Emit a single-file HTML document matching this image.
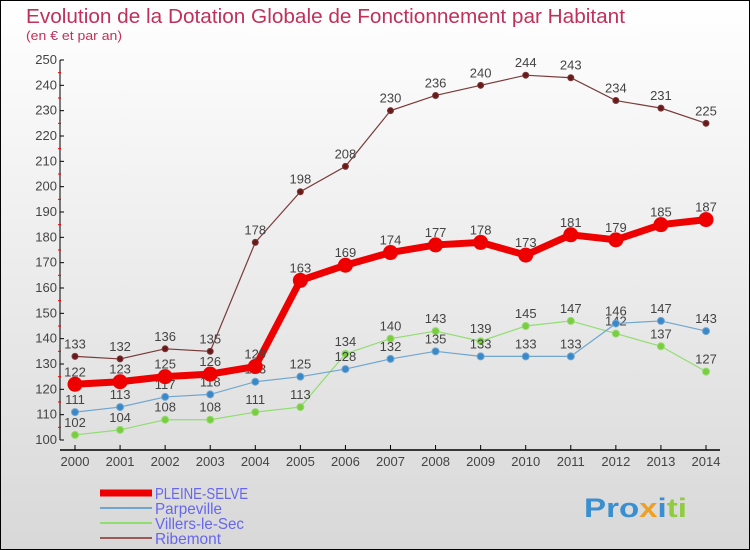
<!DOCTYPE html>
<html><head><meta charset="utf-8"><style>
body{margin:0;width:750px;height:550px;overflow:hidden;font-family:"Liberation Sans",sans-serif}
#wrap{position:absolute;left:0;top:0;width:748px;height:548px;border:1px solid #000;background:linear-gradient(#ffffff,#d8d8d8)}
</style></head><body>
<div id="wrap">
<svg id="chart" width="750" height="550" style="position:absolute;left:-1px;top:-1px">
<text x="26" y="23" font-size="20" fill="#c0305a" textLength="599" lengthAdjust="spacingAndGlyphs">Evolution de la Dotation Globale de Fonctionnement par Habitant</text>
<text x="26" y="40" font-size="13" fill="#c0305a" textLength="96" lengthAdjust="spacingAndGlyphs">(en € et par an)</text>
<g id="axes"></g><g id="series"></g>
<g>
<line x1="100" y1="493" x2="152" y2="493" stroke="#ee0000" stroke-width="7"/>
<text x="155" y="499" font-size="16" fill="#6666ee" textLength="93" lengthAdjust="spacingAndGlyphs">PLEINE-SELVE</text>
<line x1="100" y1="508" x2="152" y2="508" stroke="#6ea6d0" stroke-width="2"/>
<text x="155" y="514" font-size="16" fill="#6666ee" textLength="67" lengthAdjust="spacingAndGlyphs">Parpeville</text>
<line x1="100" y1="523" x2="152" y2="523" stroke="#90dd70" stroke-width="2"/>
<text x="155" y="529" font-size="16" fill="#6666ee" textLength="89" lengthAdjust="spacingAndGlyphs">Villers-le-Sec</text>
<line x1="100" y1="538" x2="152" y2="538" stroke="#9a5a5a" stroke-width="2"/>
<text x="155" y="544" font-size="16" fill="#6666ee" textLength="66" lengthAdjust="spacingAndGlyphs">Ribemont</text>
</g>
<text x="584" y="517" font-size="27" font-weight="bold" fill="#3a8fd0" textLength="103" lengthAdjust="spacingAndGlyphs">Pro<tspan fill="#f0a020">x</tspan>i<tspan fill="#90cc40">ti</tspan></text>
</svg>
</div>
<script>
const years=[2000,2001,2002,2003,2004,2005,2006,2007,2008,2009,2010,2011,2012,2013,2014];
const pleineSelve=[122,123,125,126,129,163,169,174,177,178,173,181,179,185,187];
const parpeville=[111,113,117,118,123,125,128,132,135,133,133,133,146,147,143];
const villers=[102,104,108,108,111,113,134,140,143,139,145,147,142,137,127];
const ribemont=[133,132,136,135,178,198,208,230,236,240,244,243,234,231,225];
const yTicks=[100,110,120,130,140,150,160,170,180,190,200,210,220,230,240,250];
const NS="http://www.w3.org/2000/svg";
const xS=i=>75+i*(706-75)/(years.length-1);
const yS=v=>440-(v-100)*(380/150);
function mk(t,a,p){const e=document.createElementNS(NS,t);for(const k in a)e.setAttribute(k,a[k]);p.appendChild(e);return e;}
const ax=document.getElementById('axes');
const yl=mk('line',{x1:60,y1:yS(250),x2:60,y2:yS(100),stroke:'#000'},ax);


yTicks.forEach(v=>{
 mk('line',{x1:60,y1:yS(v),x2:64,y2:yS(v),stroke:'#000'},ax);
 if(v<250) mk('line',{x1:58,y1:yS(v+5),x2:61,y2:yS(v+5),stroke:'#e00'},ax);
 const t=mk('text',{x:57,y:yS(v)+4,'font-size':13,fill:'#444','text-anchor':'end'},ax);t.textContent=v;
 
 
});
const xl=mk('line',{x1:60,y1:450,x2:720,y2:450,stroke:'#000','stroke-width':1.5},ax);


years.forEach((y,i)=>{
 mk('line',{x1:xS(i),y1:450,x2:xS(i),y2:445,stroke:'#000'},ax);
 const t=mk('text',{x:xS(i),y:466,'font-size':13,fill:'#444','text-anchor':'middle'},ax);t.textContent=y;
 
 
});
const sg=document.getElementById('series');
function draw(data,name,color,w,r,fill){
 const g=mk('g',{},sg);
 
 
 mk('polyline',{points:data.map((v,i)=>xS(i)+','+yS(v)).join(' '),fill:'none',stroke:color,'stroke-width':w},g);
 data.forEach((v,i)=>{
  const c=mk('circle',{cx:xS(i),cy:yS(v),r:r,fill:fill,stroke:color,'stroke-width':1},g);
  
  
  const t=mk('text',{x:xS(i),y:yS(v)-8,'font-size':13,fill:'#444','text-anchor':'middle'},g);t.textContent=v;
  
  
 });
}
draw(ribemont,'ribemont','#7a3a3a',1.2,3,'#6a1a1a');
draw(villers,'villers-le-sec','#90dd70',1.2,3.5,'#7ccc40');
draw(parpeville,'parpeville','#6ea6d0',1.2,3.5,'#3a88c8');
draw(pleineSelve,'pleine-selve','#ee0000',7,7,'#ee0000');
</script>
</body></html>
